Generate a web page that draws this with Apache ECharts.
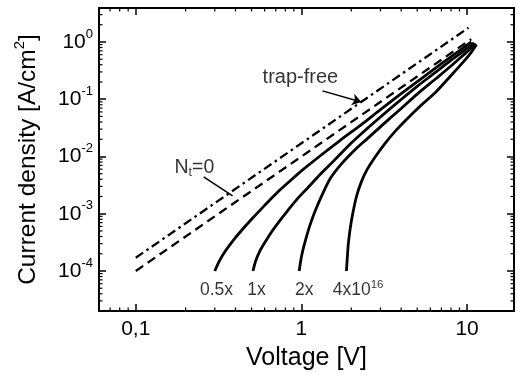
<!DOCTYPE html>
<html><head><meta charset="utf-8">
<script src="https://cdn.jsdelivr.net/npm/echarts@6.0.0/dist/echarts.min.js"></script>
<style>html,body{margin:0;padding:0;background:#fff}#c{width:517px;height:377px}</style>
</head><body><div id="c"></div>
<script>
// ---- data ----
// trap-free (dash-dot) and N_t = 0 (dashed) reference lines
const trapFreeV = [0.1, 10.2];
const trapFreeJ = [1.7e-4, 1.77];
const nt0V = [0.1, 10.6];
const nt0J = [1.0e-4, 1.12];
// trap density 0.5x, 1x, 2x, 4x10^16 curves
const v05 = [0.30,0.32,0.35,0.39,0.44,0.50,0.60,0.72,0.85,1.0,1.3,1.7,2.3,3.0,4.0,5.5,7.0,9.0,10.6];
const j05 = [1.0e-4,1.5e-4,2.3e-4,3.5e-4,5.3e-4,8.0e-4,1.4e-3,2.4e-3,3.7e-3,5.6e-3,1.03e-2,1.88e-2,3.6e-2,6.6e-2,0.125,0.248,0.417,0.705,1.0];
const v1 = [0.51,0.53,0.56,0.60,0.66,0.72,0.82,0.95,1.1,1.3,1.6,2.0,2.5,3.0,4.0,5.0,6.5,8.0,9.5,11.0];
const j1 = [1.0e-4,1.5e-4,2.2e-4,3.1e-4,4.8e-4,6.8e-4,1.1e-3,1.85e-3,2.9e-3,4.9e-3,8.9e-3,1.72e-2,3.1e-2,4.9e-2,9.9e-2,0.168,0.30,0.48,0.69,0.97];
const v2 = [0.97,0.99,1.02,1.06,1.12,1.2,1.34,1.5,1.75,2.1,2.5,3.2,4.0,5.0,6.5,8.0,9.5,11.3];
const j2 = [1.0e-4,1.5e-4,2.3e-4,3.5e-4,6.0e-4,1.05e-3,2.2e-3,4.2e-3,7.5e-3,1.3e-2,2.05e-2,3.9e-2,6.9e-2,0.123,0.23,0.38,0.59,0.93];
const v4 = [1.87,1.89,1.92,1.97,2.04,2.15,2.3,2.5,2.8,3.2,3.7,4.4,5.3,6.5,8.0,9.5,10.6,11.4];
const j4 = [1.0e-4,1.6e-4,3.0e-4,5.5e-4,1.0e-3,2.0e-3,3.6e-3,6.0e-3,1.0e-2,1.7e-2,2.8e-2,4.7e-2,7.9e-2,0.135,0.26,0.45,0.66,0.9];
// tick labels
const xMajorValues = [0.1, 1, 10];
const xMajorLabels = ['0,1', '1', '10'];
const yMajorExponents = [-4, -3, -2, -1, 0];
const xMinorValues = [0.07,0.08,0.09,0.2,0.3,0.4,0.5,0.6,0.7,0.8,0.9,2,3,4,5,6,7,8,9];
const yMinorValues = [3e-5,4e-5,5e-5,6e-5,7e-5,8e-5,9e-5,2e-4,3e-4,4e-4,5e-4,6e-4,7e-4,8e-4,9e-4,
  2e-3,3e-3,4e-3,5e-3,6e-3,7e-3,8e-3,9e-3,2e-2,3e-2,4e-2,5e-2,6e-2,7e-2,8e-2,9e-2,
  0.2,0.3,0.4,0.5,0.6,0.7,0.8,0.9,2,3];
// annotation texts
const curveLabels = ['0.5x', '1x', '2x', '4x10{s|16}'];
const trapFreeLabel = 'trap-free';
const nt0Label = 'N{sub|t}=0';

// ---- chart ----
const FONT = '"Liberation Sans", Arial, Helvetica, sans-serif';
const pair = (a, b) => a.map((x, i) => [x, b[i]]);
const X_MIN = 0.06, X_MAX = 19.2, Y_MIN = 2e-5, Y_MAX = 3.92;

const chart = echarts.init(document.getElementById('c'), null, {renderer: 'canvas'});

function xLabel(value) {
  const i = xMajorValues.findIndex(v => Math.abs(v - value) / v < 1e-6);
  return i < 0 ? '' : xMajorLabels[i];
}
function yLabel(value) {
  const e = Math.log10(value), r = Math.round(e);
  if (Math.abs(e - r) > 1e-6 || !yMajorExponents.includes(r)) return '';
  return '{b|10}{s|' + r + '}';
}

const solidStyle = {color: '#000', width: 2.8, type: 'solid'};
function solidSeries(name, v, j) {
  return {name, type: 'line', data: pair(v, j), showSymbol: false, symbol: 'none', smooth: 0.3,
    lineStyle: solidStyle, silent: true, z: 3};
}

const labelRich = {
  s: {fontSize: 11.5, fontFamily: FONT, color: '#000', verticalAlign: 'top', lineHeight: 11},
  sub: {fontSize: 12.5, fontFamily: FONT, color: '#000', verticalAlign: 'bottom', lineHeight: 12}
};

const minorData = xMinorValues.map(v => [v, 1, 0]).concat(yMinorValues.map(v => [1, v, 1]));

const option = {
  animation: false,
  backgroundColor: '#fff',
  grid: {left: 99, right: 3, top: 8, bottom: 66, containLabel: false},
  xAxis: [{
    type: 'log', logBase: 10, min: X_MIN, max: X_MAX, position: 'bottom',
    name: 'Voltage [V]', nameLocation: 'middle', nameGap: 35,
    nameTextStyle: {fontFamily: FONT, fontSize: 25, color: '#000'},
    axisLine: {show: true, onZero: false, lineStyle: {color: '#000', width: 2}},
    axisTick: {show: true, inside: true, length: 7, lineStyle: {color: '#000', width: 1.5}},
    axisLabel: {show: true, margin: 8, formatter: xLabel, fontFamily: FONT, fontSize: 21, color: '#000',
      showMinLabel: true, showMaxLabel: true},
    splitLine: {show: false}, minorTick: {show: false}
  }, {
    type: 'log', logBase: 10, min: X_MIN, max: X_MAX, position: 'top',
    axisLine: {show: true, onZero: false, lineStyle: {color: '#000', width: 2}},
    axisTick: {show: true, inside: true, length: 7, lineStyle: {color: '#000', width: 1.5}},
    axisLabel: {show: false}, splitLine: {show: false}
  }],
  yAxis: [{
    type: 'log', logBase: 10, min: Y_MIN, max: Y_MAX, position: 'left',
    name: 'Current density [A/cm{s|2}]', nameLocation: 'middle', nameGap: 55,
    nameTextStyle: {fontFamily: FONT, fontSize: 24.5, color: '#000', lineHeight: 32,
      rich: {s: {fontSize: 15, fontFamily: FONT, color: '#000', verticalAlign: 'top', lineHeight: 15}}},
    axisLine: {show: true, onZero: false, lineStyle: {color: '#000', width: 2}},
    axisTick: {show: true, inside: true, length: 7, lineStyle: {color: '#000', width: 1.5}},
    axisLabel: {show: true, margin: 6, formatter: yLabel,
      rich: {
        b: {fontFamily: FONT, fontSize: 21, color: '#000', lineHeight: 29},
        s: {fontFamily: FONT, fontSize: 13, color: '#000', verticalAlign: 'top', lineHeight: 13}
      }},
    splitLine: {show: false}
  }, {
    type: 'log', logBase: 10, min: Y_MIN, max: Y_MAX, position: 'right',
    axisLine: {show: true, onZero: false, lineStyle: {color: '#000', width: 2}},
    axisTick: {show: true, inside: true, length: 7, lineStyle: {color: '#000', width: 1.5}},
    axisLabel: {show: false}, splitLine: {show: false}
  }],
  series: [
    {
      name: 'trap-free', type: 'line', data: pair(trapFreeV, trapFreeJ), showSymbol: false, symbol: 'none',
      lineStyle: {color: '#000', width: 2.3, type: [9, 4, 2.5, 4]}, silent: true, z: 2,
      markLine: {
        silent: true, symbol: ['none', 'arrow'], symbolSize: 9, animation: false,
        lineStyle: {color: '#000', width: 1.5, type: 'solid'}, label: {show: false},
        data: [[{coord: [1.34, 0.14]}, {coord: [2.3, 0.0897]}]]
      }
    },
    {
      name: 'Nt=0', type: 'line', data: pair(nt0V, nt0J), showSymbol: false, symbol: 'none',
      lineStyle: {color: '#000', width: 2.3, type: [9, 5.5]}, silent: true, z: 2,
      markLine: {
        silent: true, symbol: ['none', 'none'], animation: false,
        lineStyle: {color: '#000', width: 1.5, type: 'solid'}, label: {show: false},
        data: [[{coord: [0.257, 4.4e-3]}, {coord: [0.384, 2.05e-3]}]]
      }
    },
    solidSeries('0.5x', v05, j05),
    solidSeries('1x', v1, j1),
    solidSeries('2x', v2, j2),
    solidSeries('4x', v4, j4),
    {
      name: 'labels', type: 'scatter', symbolSize: 1, itemStyle: {color: 'transparent'}, silent: true, z: 5,
      label: {show: true, position: 'inside', formatter: p => p.name,
        fontFamily: FONT, fontSize: 17.5, color: '#000', lineHeight: 22, rich: labelRich},
      data: [
        {name: curveLabels[0], value: [0.307, 4.7e-5]},
        {name: curveLabels[1], value: [0.536, 4.7e-5]},
        {name: curveLabels[2], value: [1.04, 4.7e-5]},
        {name: curveLabels[3], value: [2.2, 4.7e-5]},
        {name: trapFreeLabel, value: [0.986, 0.235], label: {fontSize: 20}},
        {name: nt0Label, value: [0.226, 6.3e-3], label: {fontSize: 19.5}}
      ]
    },
    {
      name: 'minorTicks', type: 'custom', silent: true, z: 4,
      dimensions: ['x', 'y', 'side'], encode: {x: 0, y: 1},
      renderItem: function (params, api) {
        const cs = params.coordSys;
        const side = api.value(2);
        const L = 3.5;
        const st = {stroke: '#000', lineWidth: 1.2};
        if (side === 0) {
          const px = api.coord([api.value(0), 1])[0];
          return {type: 'group', children: [
            {type: 'line', shape: {x1: px, y1: cs.y + cs.height, x2: px, y2: cs.y + cs.height - L}, style: st},
            {type: 'line', shape: {x1: px, y1: cs.y, x2: px, y2: cs.y + L}, style: st}
          ]};
        }
        const py = api.coord([1, api.value(1)])[1];
        return {type: 'group', children: [
          {type: 'line', shape: {x1: cs.x, y1: py, x2: cs.x + L, y2: py}, style: st},
          {type: 'line', shape: {x1: cs.x + cs.width, y1: py, x2: cs.x + cs.width - L, y2: py}, style: st}
        ]};
      },
      data: minorData
    }
  ]
};
chart.setOption(option);
</script>
</body></html>
